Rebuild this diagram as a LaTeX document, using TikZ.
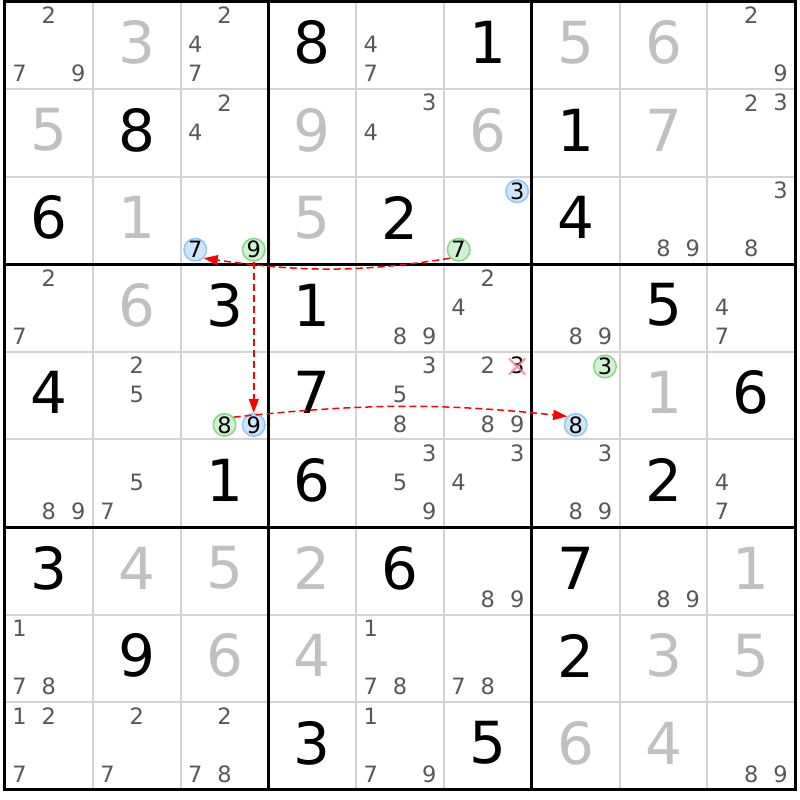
\documentclass[tikz,border=0pt]{standalone}
\usepackage{fontspec}
\setmainfont{DejaVu Sans}
\usetikzlibrary{arrows.meta,shapes.misc}
\definecolor{solvedcol}{RGB}{192,192,192}
\definecolor{candcol}{RGB}{88,88,88}
\definecolor{thincol}{RGB}{211,211,211}
\definecolor{bfill}{RGB}{208,228,250}
\definecolor{bline}{RGB}{150,200,245}
\definecolor{gfill}{RGB}{210,240,210}
\definecolor{gline}{RGB}{140,215,140}
\definecolor{xpink}{RGB}{240,130,150}
\begin{document}
\begin{tikzpicture}[x=87.8pt,y=87.6pt,
  givend/.style={font=\fontsize{58}{60}\selectfont, text=black, inner sep=0pt, yshift=3pt},
  solvedd/.style={givend, text=solvedcol},
  candd/.style={font=\fontsize{22.5}{24}\selectfont, text=candcol, inner sep=0pt, yshift=1pt},
  bluec/.style={circle, draw=bline, fill=bfill, line width=1.6pt, minimum size=22.5pt, inner sep=0pt, font=\fontsize{22.5}{24}\selectfont, text=black},
  greenc/.style={bluec, draw=gline, fill=gfill},
  link/.style={draw=red, line width=1.5pt, dash pattern=on 7pt off 4pt, -{Triangle[length=14pt,width=10pt]}},
  thinline/.style={draw=thincol, line width=2pt},
  thickline/.style={draw=black, line width=3pt}
]
\useasboundingbox (-5pt,-10.1pt) rectangle (795pt,789.9pt);
\fill[white] (-5pt,-10.1pt) rectangle (795pt,789.9pt);
% grid
\foreach \i in {1,2,4,5,7,8} {
  \draw[thinline] (\i,0) -- (\i,9);
  \draw[thinline] (0,\i) -- (9,\i);
}
\foreach \i in {0,3,6,9} {
  \draw[thickline] (\i,-0.017) -- (\i,9.017);
  \draw[thickline] (-0.017,\i) -- (9.017,\i);
}
% given digits
\foreach \r/\c/\d in {1/4/8, 1/6/1, 2/2/8, 2/7/1, 3/1/6, 3/5/2, 3/7/4, 4/3/3, 4/4/1, 4/8/5, 5/1/4, 5/4/7, 5/9/6, 6/3/1, 6/4/6, 6/8/2, 7/1/3, 7/5/6, 7/7/7, 8/2/9, 8/7/2, 9/4/3, 9/6/5}
  \node[givend] (g\r\c) at (\c-0.5,9.5-\r) {\d};
% solved digits
\foreach \r/\c/\d in {1/2/3, 1/7/5, 1/8/6, 2/1/5, 2/4/9, 2/6/6, 2/8/7, 3/2/1, 3/4/5, 4/2/6, 5/8/1, 7/2/4, 7/3/5, 7/4/2, 7/9/1, 8/3/6, 8/4/4, 8/8/3, 8/9/5, 9/7/6, 9/8/4}
  \node[solvedd] (s\r\c) at (\c-0.5,9.5-\r) {\d};
% candidates
\foreach \r/\c/\ks in {1/1/{2,7,9}, 1/3/{2,4,7}, 1/5/{4,7}, 1/9/{2,9},
  2/3/{2,4}, 2/5/{3,4}, 2/9/{2,3},
  3/8/{8,9}, 3/9/{3,8},
  4/1/{2,7}, 4/5/{8,9}, 4/6/{2,4}, 4/7/{8,9}, 4/9/{4,7},
  5/2/{2,5}, 5/5/{3,5,8}, 5/6/{2,8,9},
  6/1/{8,9}, 6/2/{5,7}, 6/5/{3,5,9}, 6/6/{3,4}, 6/7/{3,8,9}, 6/9/{4,7},
  7/6/{8,9}, 7/8/{8,9},
  8/1/{1,7,8}, 8/5/{1,7,8}, 8/6/{7,8},
  9/1/{1,2,7}, 9/2/{2,7}, 9/3/{2,7,8}, 9/5/{1,7,9}, 9/9/{8,9}} {
  \foreach \k in \ks {
    \node[candd] (k\r\c\k) at ({\c-1+(2*mod(\k-1,3)+1)/6},{10-\r-(2*floor((\k-1)/3)+1)/6}) {\k};
  }
}
% eliminated candidate
\node[candd, text=black] (k563) at (5.8333,4.8333) {3};
\node[cross out, draw=xpink, line width=2.2pt, minimum size=14pt, inner sep=0pt, opacity=0.8] (xk563) at (5.8333,4.8333) {};
% highlighted candidates
\node[bluec] (b7) at (2.1667,6.1667) {7};
\node[greenc] (g9) at (2.8333,6.1667) {9};
\node[bluec] (b3) at (5.8333,6.8333) {3};
\node[greenc] (g7) at (5.1667,6.1667) {7};
\node[greenc] (g8) at (2.5,4.1667) {8};
\node[bluec] (b9) at (2.8333,4.1667) {9};
\node[greenc] (g3) at (6.8333,4.8333) {3};
\node[bluec] (b8) at (6.5,4.1667) {8};
% links
\draw[link] (g7.225) to[out=189,in=-8] (b7.-45);
\draw[link] (g9) -- (b9);
\draw[link] (g8.40) to[out=6,in=174] (b8.135);
\end{tikzpicture}
\end{document}
